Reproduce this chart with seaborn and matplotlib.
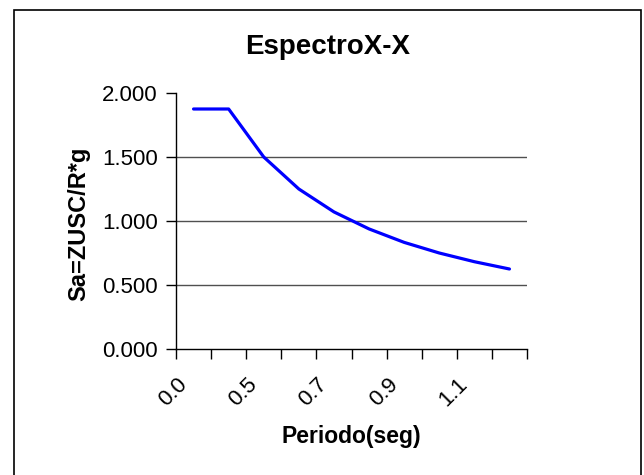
import matplotlib
matplotlib.use("Agg")
import matplotlib.pyplot as plt
from matplotlib.patches import Rectangle
from matplotlib.ticker import FixedLocator, FuncFormatter
import matplotlib.transforms as mtransforms
import seaborn as sns
import pandas as pd
import numpy as np

# Data
periods = ["0.0", "0.4", "0.5", "0.6", "0.7", "0.8", "0.9", "1.0", "1.1", "1.2"]
sa_values = [1.875, 1.875, 1.500, 1.250, 1.071, 0.938, 0.833, 0.750, 0.682, 0.625]
shown_labels = ["0.0", "0.5", "0.7", "0.9", "1.1"]
y_ticks = [0.0, 0.5, 1.0, 1.5, 2.0]

title = "EspectroX-X"
xlabel = "Periodo(seg)"
ylabel = "Sa=ZUSC/R*g"

sns.set_theme(style="white")
plt.rcParams["font.family"] = ["Liberation Sans", "DejaVu Sans"]
plt.rcParams["text.color"] = "black"
plt.rcParams["axes.labelcolor"] = "black"
plt.rcParams["xtick.color"] = "black"
plt.rcParams["ytick.color"] = "black"

df = pd.DataFrame({"Periodo": periods, "Sa": sa_values})

fig = plt.figure(figsize=(6.44, 4.75), dpi=100)
fig.patch.set_facecolor("white")
ax = fig.add_axes([176/644, 1 - 349/475, (527-176)/644, (349-93)/475])

# outer chart border (bottom edge off-canvas)
fig.patches.append(Rectangle((14/644, -0.05), (641-14)/644, 1.05 - 10/475,
                             transform=fig.transFigure, fill=False,
                             edgecolor="black", linewidth=1.2, zorder=0))

sns.lineplot(data=df, x="Periodo", y="Sa", ax=ax, color="#0000FF",
             linewidth=2.3, sort=False, zorder=3)

n = len(periods)
ax.set_xlim(-0.5, n - 0.5)
ax.set_ylim(0, 2.0)

# gridlines
for y in y_ticks[1:-1]:
    ax.axhline(y, color="#505050", linewidth=1.0, zorder=1)

ax.set_yticks(y_ticks)
ax.yaxis.set_major_formatter(FuncFormatter(lambda v, p: f"{v:.3f}"))
ax.tick_params(axis="y", which="major", direction="out", length=7, width=1,
               color="black", labelsize=16, pad=6, left=True, labelcolor="black")

# category ticks: labels at centres, marks at boundaries
ax.xaxis.set_major_locator(FixedLocator(list(range(n))))
ax.set_xticklabels([p if p in shown_labels else "" for p in periods])
ax.xaxis.set_minor_locator(FixedLocator([i - 0.5 for i in range(n + 1)]))
ax.tick_params(axis="x", which="major", length=0, labelsize=16, pad=13,
               labelcolor="black")
ax.tick_params(axis="x", which="minor", direction="out", length=7, width=1,
               color="black", bottom=True)
offset = mtransforms.ScaledTranslation(-17/100, -7/100, fig.dpi_scale_trans)
for lab in ax.get_xticklabels():
    lab.set_rotation(45)
    lab.set_ha("right")
    lab.set_va("top")
    lab.set_rotation_mode("anchor")
    lab.set_transform(lab.get_transform() + offset)

for s in ["top", "right"]:
    ax.spines[s].set_visible(False)
for s in ["left", "bottom"]:
    ax.spines[s].set_visible(True)
    ax.spines[s].set_color("black")
    ax.spines[s].set_linewidth(1.0)

fig.text(327.5/644, 1 - 47/475, title, fontsize=20, fontweight="bold",
         ha="center", va="center", color="black")
ax.set_xlabel(xlabel, fontsize=16.5, fontweight="bold", color="black", va="top")
ax.set_ylabel(ylabel, fontsize=17, fontweight="bold", color="black")
ax.xaxis.set_label_coords(0.5, -0.297)
ax.yaxis.set_label_coords(-0.245, 0.488)
ax.grid(False)

fig.savefig("out.png", dpi=100, facecolor="white")
